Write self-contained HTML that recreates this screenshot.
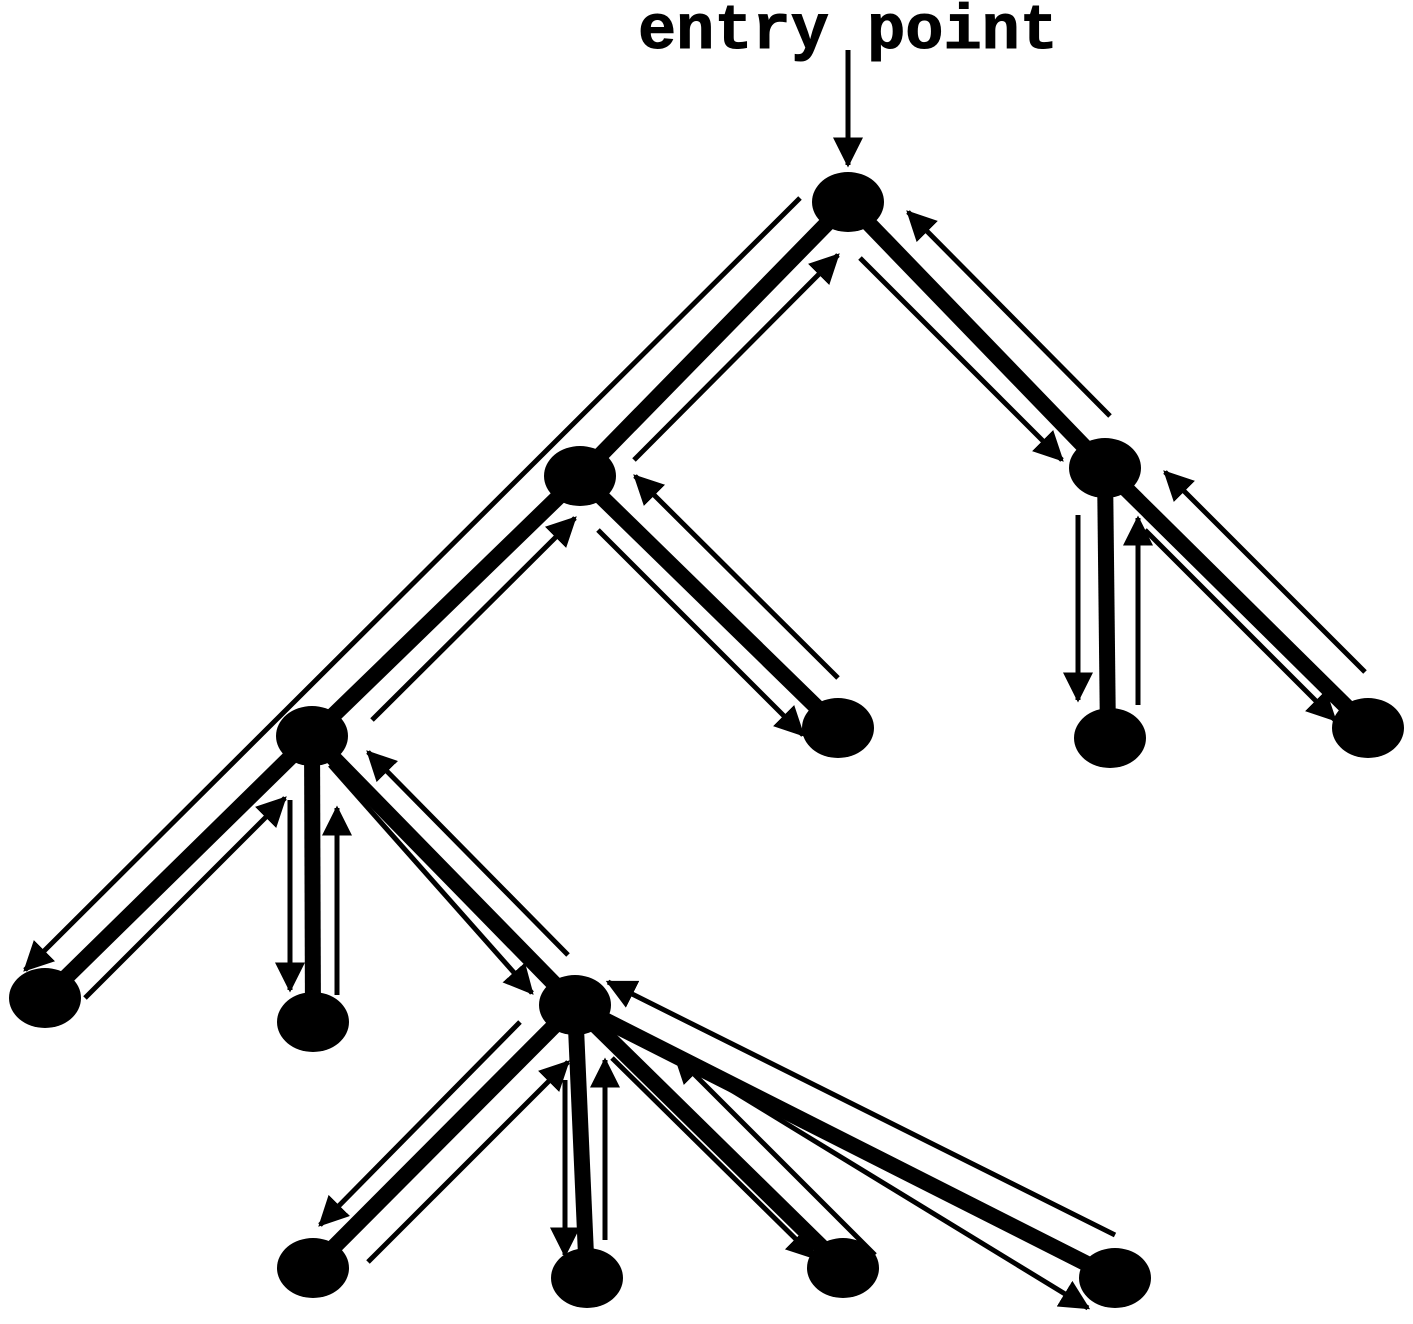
<!DOCTYPE html>
<html><head><meta charset="utf-8"><style>
html,body{margin:0;padding:0;background:#fff;width:1413px;height:1324px;overflow:hidden}
</style></head><body>
<svg width="1413" height="1324" viewBox="0 0 1413 1324" xmlns="http://www.w3.org/2000/svg">
<defs>
<marker id="a" markerWidth="6" markerHeight="6" refX="5.5" refY="3" orient="auto" markerUnits="strokeWidth">
<path d="M0,0 L6,3 L0,6 z" fill="#000"/>
</marker>
</defs>
<text x="848" y="48" text-anchor="middle" font-family="Liberation Mono, monospace" font-weight="bold" font-size="63" textLength="420" lengthAdjust="spacingAndGlyphs" stroke="#000" stroke-width="1">entry point</text>
<g stroke="#000" stroke-width="16" stroke-linecap="butt">
<line x1="848" y1="202" x2="580" y2="476"/>
<line x1="848" y1="202" x2="1105" y2="468"/>
<line x1="580" y1="476" x2="312" y2="736"/>
<line x1="580" y1="476" x2="838" y2="728"/>
<line x1="1105" y1="468" x2="1108" y2="738"/>
<line x1="1105" y1="468" x2="1368" y2="728"/>
<line x1="312" y1="736" x2="45" y2="998"/>
<line x1="312" y1="736" x2="313" y2="1022"/>
<line x1="312" y1="736" x2="575" y2="1005"/>
<line x1="575" y1="1005" x2="313" y2="1268"/>
<line x1="575" y1="1005" x2="587" y2="1278"/>
<line x1="575" y1="1005" x2="843" y2="1268"/>
<line x1="575" y1="1005" x2="1115" y2="1278"/>
</g>
<g stroke="#000" stroke-width="5" marker-end="url(#a)">
<line x1="848" y1="50" x2="848" y2="165"/>
<line x1="800" y1="198" x2="25" y2="970"/>
<line x1="634" y1="460" x2="838" y2="255"/>
<line x1="860" y1="258" x2="1062" y2="460"/>
<line x1="1110" y1="416" x2="908" y2="212"/>
<line x1="372" y1="720" x2="575" y2="518"/>
<line x1="598" y1="530" x2="803" y2="735"/>
<line x1="838" y1="678" x2="635" y2="476"/>
<line x1="1078" y1="515" x2="1078" y2="700"/>
<line x1="1138" y1="705" x2="1138" y2="518"/>
<line x1="1145" y1="530" x2="1335" y2="720"/>
<line x1="1365" y1="672" x2="1165" y2="472"/>
<line x1="85" y1="998" x2="285" y2="798"/>
<line x1="290" y1="800" x2="290" y2="990"/>
<line x1="337" y1="995" x2="337" y2="808"/>
<line x1="330" y1="765" x2="532" y2="993"/>
<line x1="568" y1="955" x2="368" y2="752"/>
<line x1="520" y1="1022" x2="320" y2="1225"/>
<line x1="368" y1="1262" x2="568" y2="1062"/>
<line x1="565" y1="1080" x2="565" y2="1255"/>
<line x1="605" y1="1240" x2="605" y2="1060"/>
<line x1="612" y1="1058" x2="815" y2="1258"/>
<line x1="875" y1="1255" x2="675" y2="1055"/>
<line x1="718" y1="1082" x2="1088" y2="1308"/>
<line x1="1115" y1="1235" x2="608" y2="982"/>
</g>
<g fill="#000">
<ellipse cx="848" cy="202" rx="36" ry="30"/>
<ellipse cx="580" cy="476" rx="36" ry="30"/>
<ellipse cx="1105" cy="468" rx="36" ry="30"/>
<ellipse cx="312" cy="736" rx="36" ry="30"/>
<ellipse cx="838" cy="728" rx="36" ry="30"/>
<ellipse cx="1110" cy="738" rx="36" ry="30"/>
<ellipse cx="1368" cy="728" rx="36" ry="30"/>
<ellipse cx="45" cy="998" rx="36" ry="30"/>
<ellipse cx="313" cy="1022" rx="36" ry="30"/>
<ellipse cx="575" cy="1005" rx="36" ry="30"/>
<ellipse cx="313" cy="1268" rx="36" ry="30"/>
<ellipse cx="587" cy="1278" rx="36" ry="30"/>
<ellipse cx="843" cy="1268" rx="36" ry="30"/>
<ellipse cx="1115" cy="1278" rx="36" ry="30"/>
</g>
</svg>
</body></html>
